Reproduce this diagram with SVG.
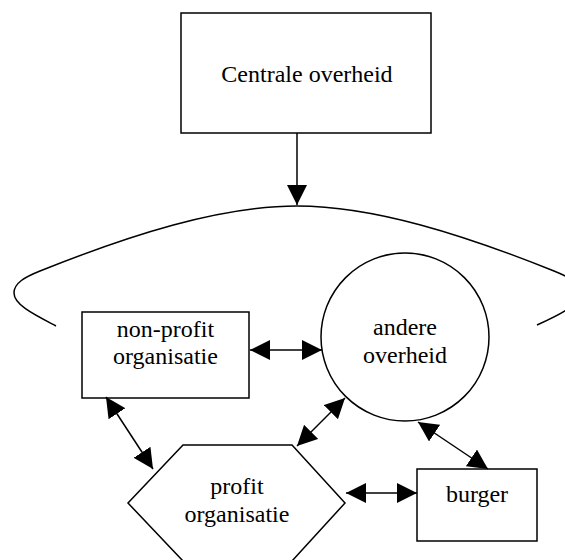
<svg xmlns="http://www.w3.org/2000/svg" width="565" height="560" viewBox="0 0 565 560">
  <style>
    .shape { fill: #ffffff; stroke: #000000; stroke-width: 1.5; }
    .label { font-family: "Liberation Serif", "Times New Roman", serif; font-size: 24px; fill: #000000; text-anchor: middle; }
    .link { fill: none; stroke: #000000; stroke-width: 1.5; }
    .both { marker-start: url(#head); marker-end: url(#head); }
    .one { marker-end: url(#head); }
  </style>
  <defs>
    <marker id="head" markerUnits="userSpaceOnUse" markerWidth="20" markerHeight="20" refX="20" refY="10" orient="auto-start-reverse">
      <path d="M0,0 L20,10 L0,20 z" fill="#000000"/>
    </marker>
  </defs>
  <rect width="565" height="560" fill="#ffffff"/>

  <g id="centrale-overheid">
    <rect class="shape" x="181" y="13" width="250" height="120"/>
    <text class="label" x="307" y="82">Centrale overheid</text>
  </g>

  <g id="omgeving">
    <path class="link" d="M56,326 C35,315 14,305 14,293 C14,283 25,277 40,271 C130,235 220,206 297,206 C374,206 464,235 554,271 C569,277 580,283 580,293 C580,305 559,315 537,325"/>
  </g>

  <g id="non-profit-organisatie">
    <rect class="shape" x="82" y="312" width="167" height="86"/>
    <text class="label" x="165.5" y="337">non-profit</text>
    <text class="label" x="165.5" y="364">organisatie</text>
  </g>

  <g id="andere-overheid">
    <circle class="shape" cx="405" cy="337" r="84"/>
    <text class="label" x="405" y="335">andere</text>
    <text class="label" x="405" y="363">overheid</text>
  </g>

  <g id="profit-organisatie">
    <polygon class="shape" points="183,445 292,445 345,503 292,561 183,561 128,503"/>
    <text class="label" x="237" y="494">profit</text>
    <text class="label" x="237" y="522">organisatie</text>
  </g>

  <g id="burger">
    <rect class="shape" x="417" y="469" width="120" height="72"/>
    <text class="label" x="477" y="502">burger</text>
  </g>

  <g id="connectors">
    <line class="link one" x1="297" y1="133" x2="297" y2="205"/>
    <line class="link both" x1="250" y1="350" x2="322" y2="350"/>
    <line class="link both" x1="106" y1="397" x2="153" y2="469"/>
    <line class="link both" x1="345" y1="398" x2="297" y2="446"/>
    <line class="link both" x1="418" y1="422" x2="488" y2="469"/>
    <line class="link both" x1="346" y1="493" x2="417" y2="493"/>
  </g>
</svg>
